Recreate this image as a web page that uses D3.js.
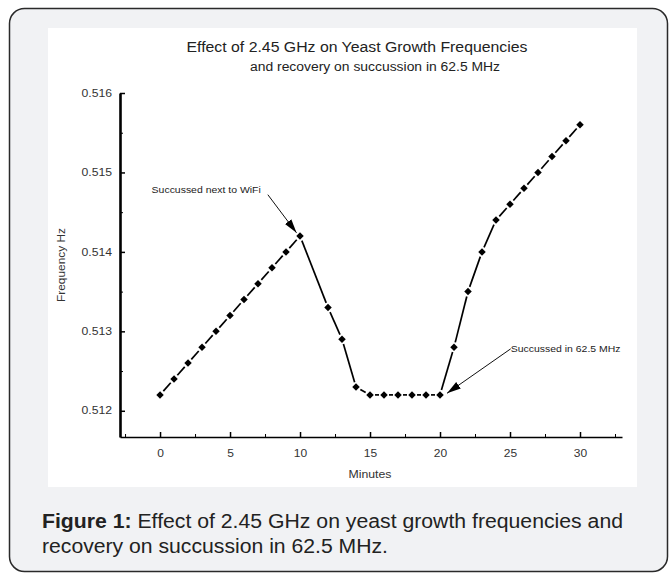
<!DOCTYPE html>
<html lang="en">
<head>
    <meta charset="UTF-8">
    <title>Effect of 2.45 GHz on Yeast Growth Frequencies</title>
    <script src="https://d3js.org/d3.v7.min.js"></script>
    <style>
        body { margin: 0; background: #fff; }
        svg { display: block; font-family: "Liberation Sans", Arial, sans-serif; }
        .tick text { font-size: 10px; fill: #333; }
        .seg { stroke: #000; stroke-width: 1.7px; }
    </style>
</head>
<body>
    <div id="chart"></div>
    <script>
        // data (minute 11 has no reading)
        var minutes = [0, 1, 2, 3, 4, 5, 6, 7, 8, 9, 10, 12, 13, 14, 15, 16, 17, 18, 19, 20,
                       21, 22, 23, 24, 25, 26, 27, 28, 29, 30];
        var frequency = [0.5122, 0.5124, 0.5126, 0.5128, 0.5130, 0.5132, 0.5134, 0.5136, 0.5138, 0.5140,
                         0.5142, 0.5133, 0.5129, 0.5123, 0.5122, 0.5122, 0.5122, 0.5122, 0.5122, 0.5122,
                         0.5128, 0.5135, 0.5140, 0.5144, 0.5146, 0.5148, 0.5150, 0.5152, 0.5154, 0.5156];

        var xTicks = [0, 5, 10, 15, 20, 25, 30];
        var xMinor = [-2.5, 2.5, 7.5, 12.5, 17.5, 22.5, 27.5, 32.5];
        var yTicks = [0.512, 0.513, 0.514, 0.515, 0.516];
        var yMinor = [0.5125, 0.5135, 0.5145, 0.5155];

        // annotation label + arrow (from -> to), in data units
        var noteText = ["Succussed next to WiFi", "Succussed in 62.5 MHz"];
        var noteAt = [[-0.6, 0.51478], [25.05, 0.51278]];
        var arrowFrom = [[7.7, 0.51472], [25.05, 0.51278]];
        var arrowTo = [[9.75, 0.51424], [20.5, 0.51222]];

        var W = 669, H = 574;
        var svg = d3.select("#chart").append("svg")
            .attr("width", W)
            .attr("height", H);

        // the original figure is a little wider than its fonts: stretch text to fit
        function stretch(sel, k) {
            sel.each(function () {
                var w = this.getComputedTextLength();
                d3.select(this).attr("textLength", w * k).attr("lengthAdjust", "spacingAndGlyphs");
            });
        }

        // card + white plot panel
        svg.append("rect")
            .attr("x", 9.5).attr("y", 8.5)
            .attr("width", 658).attr("height", 563)
            .attr("rx", 15)
            .attr("fill", "#f1f2f4")
            .attr("stroke", "#2a2a2a")
            .attr("stroke-width", 1.5);

        svg.append("rect")
            .attr("x", 48).attr("y", 28)
            .attr("width", 589).attr("height", 459)
            .attr("fill", "#fff");

        var x = d3.scaleLinear().domain([-2.86, 33.0]).range([120, 622]);
        var y = d3.scaleLinear().domain([0.51167, 0.516]).range([437, 93]);

        // titles
        svg.append("text")
            .attr("x", 357).attr("y", 52)
            .attr("text-anchor", "middle")
            .attr("font-size", 14)
            .attr("fill", "#222")
            .attr("textLength", 341).attr("lengthAdjust", "spacingAndGlyphs")
            .text("Effect of 2.45 GHz on Yeast Growth Frequencies");
        svg.append("text")
            .attr("x", 375).attr("y", 71)
            .attr("text-anchor", "middle")
            .attr("font-size", 12)
            .attr("fill", "#222")
            .attr("textLength", 250).attr("lengthAdjust", "spacingAndGlyphs")
            .text("and recovery on succussion in 62.5 MHz");

        // y axis
        var yAxis = svg.append("g")
            .attr("transform", "translate(120,0)")
            .call(d3.axisLeft(y).tickValues(yTicks).tickFormat(d3.format(".3f"))
                .tickSizeInner(-5).tickSizeOuter(0).tickPadding(8));
        yAxis.select(".domain").attr("stroke-width", 2.6);
        yAxis.selectAll(".tick line").attr("stroke-width", 1.5);
        stretch(yAxis.selectAll(".tick text"), 1.22);

        svg.append("g")
            .attr("transform", "translate(120,0)")
            .call(d3.axisLeft(y).tickValues(yMinor).tickFormat("").tickSize(-3))
            .call(g => g.select(".domain").remove());

        // x axis
        var xAxis = svg.append("g")
            .attr("transform", "translate(0,437)")
            .call(d3.axisBottom(x).tickValues(xTicks)
                .tickSizeInner(-5).tickSizeOuter(0).tickPadding(13));
        xAxis.select(".domain").attr("stroke-width", 1.5);
        xAxis.selectAll(".tick line").attr("stroke-width", 1.5);
        stretch(xAxis.selectAll(".tick text"), 1.2);

        svg.append("g")
            .attr("transform", "translate(0,437)")
            .call(d3.axisBottom(x).tickValues(xMinor).tickFormat("").tickSize(-3))
            .call(g => g.select(".domain").remove());

        svg.append("text")
            .attr("x", 370).attr("y", 478)
            .attr("text-anchor", "middle")
            .attr("font-size", 10)
            .attr("fill", "#333")
            .attr("textLength", 43).attr("lengthAdjust", "spacingAndGlyphs")
            .text("Minutes");

        svg.append("text")
            .attr("transform", "translate(65,265) rotate(-90)")
            .attr("text-anchor", "middle")
            .attr("font-size", 10)
            .attr("fill", "#333")
            .attr("textLength", 74).attr("lengthAdjust", "spacingAndGlyphs")
            .text("Frequency Hz");

        // series: segments trimmed near each marker
        var pts = minutes.map((m, i) => [x(m), y(frequency[i])]);
        var gap = 5;
        var segs = d3.pairs(pts).map(function (p) {
            var dx = p[1][0] - p[0][0], dy = p[1][1] - p[0][1];
            var len = Math.sqrt(dx * dx + dy * dy);
            var ux = dx / len, uy = dy / len;
            return [p[0][0] + ux * gap, p[0][1] + uy * gap, p[1][0] - ux * gap, p[1][1] - uy * gap];
        });

        svg.append("g").selectAll("line")
            .data(segs)
            .enter().append("line")
            .attr("class", "seg")
            .attr("x1", d => d[0]).attr("y1", d => d[1])
            .attr("x2", d => d[2]).attr("y2", d => d[3]);

        svg.append("g").selectAll("path")
            .data(pts)
            .enter().append("path")
            .attr("d", d3.symbol().type(d3.symbolSquare).size(28))
            .attr("transform", d => `translate(${d[0]},${d[1]}) rotate(45)`)
            .attr("fill", "#000");

        // annotations
        svg.append("defs").append("marker")
            .attr("id", "head")
            .attr("viewBox", "0 0 14 8")
            .attr("refX", 14).attr("refY", 4)
            .attr("markerWidth", 14).attr("markerHeight", 8)
            .attr("markerUnits", "userSpaceOnUse")
            .attr("orient", "auto")
            .append("path")
            .attr("d", "M0,0 L14,4 L0,8 Z")
            .attr("fill", "#000");

        svg.append("g").selectAll("line")
            .data(arrowFrom)
            .enter().append("line")
            .attr("x1", d => x(d[0])).attr("y1", d => y(d[1]))
            .attr("x2", (d, i) => x(arrowTo[i][0])).attr("y2", (d, i) => y(arrowTo[i][1]))
            .attr("stroke", "#111")
            .attr("stroke-width", 1)
            .attr("marker-end", "url(#head)");

        var notes = svg.append("g").selectAll("text")
            .data(noteText)
            .enter().append("text")
            .attr("x", (d, i) => x(noteAt[i][0]))
            .attr("y", (d, i) => y(noteAt[i][1]))
            .attr("dy", "0.35em")
            .attr("font-size", 9.5)
            .attr("fill", "#222")
            .text(d => d);
        stretch(notes, 1.1);

        // caption
        var cap = svg.append("text")
            .attr("x", 42).attr("y", 528)
            .attr("font-size", 19.5)
            .attr("fill", "#222")
            .attr("textLength", 581).attr("lengthAdjust", "spacingAndGlyphs");
        cap.append("tspan").attr("font-weight", "bold").text("Figure 1:");
        cap.append("tspan").text(" Effect of 2.45 GHz on yeast growth frequencies and");
        svg.append("text")
            .attr("x", 42).attr("y", 553)
            .attr("font-size", 19.5)
            .attr("fill", "#222")
            .attr("textLength", 346).attr("lengthAdjust", "spacingAndGlyphs")
            .text("recovery on succussion in 62.5 MHz.");
    </script>
</body>
</html>
